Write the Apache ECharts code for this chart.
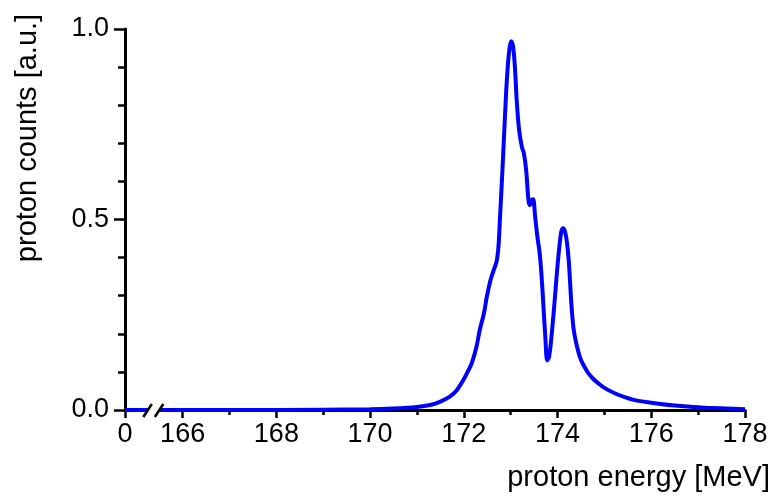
<!DOCTYPE html>
<html><head><meta charset="utf-8">
<script src="https://cdn.jsdelivr.net/npm/echarts@6/dist/echarts.min.js"></script>
<style>html,body{margin:0;padding:0;background:#fff}#c{width:778px;height:498px}</style>
</head><body><div id="c"></div>
<script>
// ---- data ----
const energy = [0, 166, 168, 170, 170.5, 171.0, 171.28, 171.5, 171.7, 171.85, 171.99, 172.08, 172.17, 172.27, 172.34, 172.43, 172.49, 172.57, 172.64, 172.7, 172.74, 172.77, 172.82, 172.87, 172.92, 172.97, 173.01, 173.05, 173.09, 173.13, 173.18, 173.24, 173.28, 173.33, 173.38, 173.41, 173.45, 173.48, 173.52, 173.57, 173.62, 173.66, 173.7, 173.74, 173.78, 173.82, 173.87, 173.92, 173.96, 174.0, 174.04, 174.08, 174.12, 174.16, 174.2, 174.24, 174.27, 174.3, 174.34, 174.39, 174.45, 174.5, 174.58, 174.66, 174.76, 174.87, 175.0, 175.22, 175.45, 175.65, 176.0, 176.19, 176.5, 176.9, 177.3, 177.61, 178];
const counts = [0, 0, 0, 0.002, 0.004, 0.008, 0.013, 0.022, 0.035, 0.052, 0.079, 0.1, 0.123, 0.166, 0.21, 0.254, 0.297, 0.341, 0.368, 0.39, 0.43, 0.5, 0.62, 0.75, 0.87, 0.945, 0.968, 0.955, 0.9, 0.81, 0.735, 0.69, 0.675, 0.63, 0.55, 0.538, 0.552, 0.553, 0.51, 0.455, 0.41, 0.35, 0.27, 0.19, 0.13, 0.14, 0.192, 0.26, 0.32, 0.38, 0.43, 0.468, 0.477, 0.468, 0.44, 0.39, 0.33, 0.27, 0.215, 0.18, 0.15, 0.131, 0.112, 0.096, 0.082, 0.07, 0.058, 0.044, 0.033, 0.026, 0.019, 0.016, 0.012, 0.008, 0.005, 0.004, 0.002];
const xMajorTicks = [0, 166, 168, 170, 172, 174, 176, 178];
const xMinorTicks = [167, 169, 171, 173, 175, 177];
const yTicks = [0, 0.5, 1.0];
const xTitle = 'proton energy [MeV]';
const yTitle = 'proton counts [a.u.]';

// axis position at which energy 0 is displayed (broken axis)
const BREAK_AT = 164.77;
function ax(e) { return e === 0 ? BREAK_AT : e; }

const FONT = '"Liberation Sans", Arial, Helvetica, sans-serif';
const chart = echarts.init(document.getElementById('c'), null, {renderer: 'canvas'});
const majorPos = xMajorTicks.map(ax);

chart.setOption({
  animation: false,
  backgroundColor: '#fff',
  grid: {left: 125, right: 33, top: 29, bottom: 88, containLabel: false},
  xAxis: [{
    type: 'value', min: BREAK_AT, max: 178, position: 'bottom',
    axisLine: {show: true, onZero: false, lineStyle: {color: '#000', width: 3}},
    axisTick: {show: true, customValues: majorPos, length: 8, lineStyle: {color: '#000', width: 2.5}},
    axisLabel: {show: true, customValues: majorPos, margin: 11, color: '#000', fontSize: 27, fontFamily: FONT,
      formatter: v => Math.abs(v - BREAK_AT) < 1e-6 ? '0' : String(Math.round(v))},
    splitLine: {show: false}
  }, {
    type: 'value', min: BREAK_AT, max: 178, position: 'bottom',
    axisLine: {show: false, onZero: false},
    axisTick: {show: true, customValues: xMinorTicks, length: 5, lineStyle: {color: '#000', width: 2.5}},
    axisLabel: {show: false},
    splitLine: {show: false}
  }],
  yAxis: {
    type: 'value', min: 0, max: 1, interval: 0.5,
    axisLine: {show: true, lineStyle: {color: '#000', width: 3}},
    axisTick: {show: true, length: 11, lineStyle: {color: '#000', width: 2.5}},
    minorTick: {show: true, splitNumber: 5, length: 7, lineStyle: {color: '#000', width: 2.5}},
    axisLabel: {margin: 16, color: '#000', fontSize: 27, fontFamily: FONT, formatter: v => v.toFixed(1)},
    splitLine: {show: false}, minorSplitLine: {show: false}
  },
  series: [{
    type: 'line', xAxisIndex: 0, yAxisIndex: 0,
    data: energy.map((e, i) => [ax(e), counts[i]]),
    symbol: 'none', smooth: 0.35,
    lineStyle: {color: '#0000ff', width: 4},
    z: 3
  }]
});

// axis break mark and axis titles
const p0 = chart.convertToPixel({xAxisIndex: 0, yAxisIndex: 0}, [BREAK_AT, 0]);
const p1 = chart.convertToPixel({xAxisIndex: 0, yAxisIndex: 0}, [166, 0]);
const cx = (p0[0] + p1[0]) / 2, cy = p0[1];
const s1 = [[cx - 10.5, cy + 7], [cx - 2, cy - 6]];
const s2 = [[cx + 1, cy + 7], [cx + 9.5, cy - 6]];
chart.setOption({
  graphic: [
    {type: 'polygon', z: 100, shape: {points: [s1[0], s1[1], s2[1], s2[0]]}, style: {fill: '#fff'}},
    {type: 'line', z: 101, shape: {x1: s1[0][0], y1: s1[0][1], x2: s1[1][0], y2: s1[1][1]}, style: {stroke: '#000', lineWidth: 2.5}},
    {type: 'line', z: 101, shape: {x1: s2[0][0], y1: s2[0][1], x2: s2[1][0], y2: s2[1][1]}, style: {stroke: '#000', lineWidth: 2.5}},
    {type: 'text', z: 100, x: 770, y: 478, style: {text: xTitle, fill: '#000', font: '29px ' + FONT, align: 'right', verticalAlign: 'middle'}},
    {type: 'text', z: 100, x: 28, y: 138, rotation: Math.PI / 2, style: {text: yTitle, fill: '#000', font: '29px ' + FONT, align: 'center', verticalAlign: 'middle'}}
  ]
});
</script>
</body></html>
